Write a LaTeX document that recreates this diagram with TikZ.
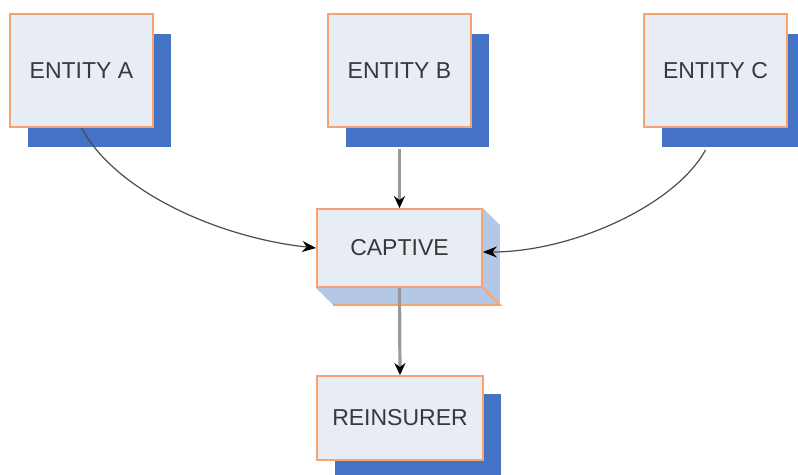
\documentclass[tikz,border=0pt]{standalone}
\usepackage{fontspec}
\setmainfont{Liberation Sans}
\usetikzlibrary{arrows.meta,shadows,backgrounds}

\definecolor{boxfill}{HTML}{E8ECF5}
\definecolor{boxline}{HTML}{F5A470}
\definecolor{shadowblue}{HTML}{4472C4}
\definecolor{depthblue}{HTML}{B4C7E7}
\definecolor{textgray}{HTML}{383838}
\definecolor{linegray}{HTML}{999999}

\begin{document}
\begin{tikzpicture}[
  x=1pt, y=-1pt,
  every node/.style={font=\fontsize{23}{27}\selectfont,text=textgray},
  entity/.style={draw=boxline,line width=1.8pt,fill=boxfill,
    minimum width=143pt,minimum height=113pt,
    drop shadow={shadow xshift=18pt,shadow yshift=-20pt,fill=shadowblue,opacity=1}},
  % reinsurer/.style={entity,minimum height=85pt},
  reinsurer/.style={entity,minimum width=166pt,minimum height=84pt,
    drop shadow={shadow xshift=18pt,shadow yshift=-18pt,fill=shadowblue,opacity=1}},
  box3d/.style={draw=boxline,line width=1.8pt,fill=boxfill,
    minimum width=165pt,minimum height=78pt},
  flow/.style={draw=linegray,line width=3.2pt,-{Stealth[length=12pt,width=11pt,color=black]}},
  link/.style={draw=black!70,line width=1.2pt,-{Stealth[length=14pt,width=11pt,color=black]}},
  ]
  \useasboundingbox (0,0) rectangle (798,474);

  \node[entity] (A) at (81.5,70.5) {ENTITY A};
  \node[entity] (B) at (399.5,70.5) {ENTITY B};
  \node[entity] (C) at (715.5,70.5) {ENTITY C};
  \node[box3d] (captive) at (399.5,248) {CAPTIVE};
  \node[reinsurer] (reins) at (400,418) {REINSURER};

  % depth of the captive box
  \begin{scope}[on background layer]
    \fill[depthblue] (captive.north east) -- ([shift={(17,17)}]captive.north east)
      -- ([shift={(17,17)}]captive.south east) -- ([shift={(17,17)}]captive.south west)
      -- (captive.south west) -- cycle;
  \end{scope}
  \draw[boxline,line width=1.8pt] ([shift={(17,17)}]captive.south west)
    -- ([shift={(17,17)}]captive.south east) -- (captive.south east);

  \draw[link] (A.south) .. controls +(35,65) and +(-95,-10) .. (captive.west);
  \draw[link] ([xshift=-10pt,yshift=-22pt]C.south) .. controls +(-30,55) and +(90,0)
    .. ([yshift=-4pt]captive.east);
  \draw[flow] ([yshift=-21pt]B.south) -- (captive.north);
  \draw[flow] (captive.south) -- (reins.north);
\end{tikzpicture}
\end{document}
